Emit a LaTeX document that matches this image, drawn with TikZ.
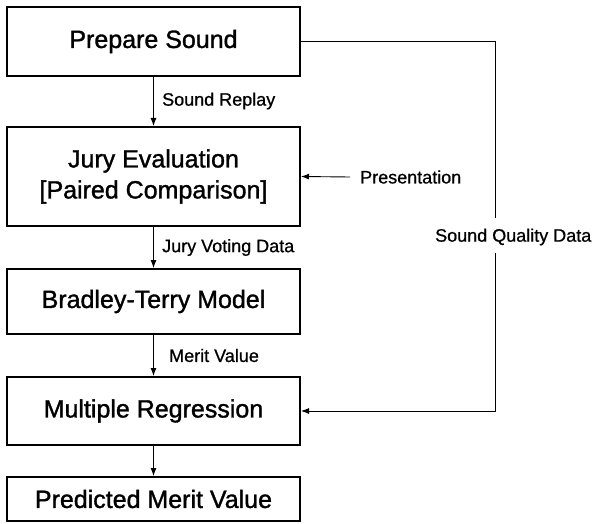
\documentclass[tikz,border=0pt]{standalone}
\usepackage{fontspec}
\setmainfont{Liberation Sans}
\newfontfamily\boxfont[FakeBold=1.3]{Liberation Sans}
\newfontfamily\lblfont[FakeBold=0.8]{Liberation Sans}
\usetikzlibrary{arrows.meta}
\begin{document}
\begin{tikzpicture}[x=1pt,y=-1pt,
  box/.style={draw, line width=2pt, minimum width=293pt, inner sep=0pt, align=center,
    font=\boxfont\fontsize{25}{31}\selectfont},
  lbl/.style={anchor=west, inner sep=0pt, font=\lblfont\fontsize{18}{20}\selectfont},
  conn/.style={line width=0.9pt},
  arr/.style={conn, -{Latex[length=8pt,width=6pt]}}]
\useasboundingbox (0,0) rectangle (592,524);
\node[box, minimum height=69pt] (b1) at (153.5,41.5) {Prepare Sound};
\node[box, minimum height=99pt] (b2) at (153.5,176.5) {Jury Evaluation\\{[}Paired Comparison{]}};
\node[box, minimum height=65pt] (b3) at (153.5,301.5) {Bradley-Terry Model};
\node[box, minimum height=68pt] (b4) at (153.5,411) {Multiple Regression};
\node[box, minimum height=44pt] (b5) at (153.5,499) {Predicted Merit Value};
\draw[arr] (b1) -- (b2);
\draw[arr] (b2) -- (b3);
\draw[arr] (b3) -- (b4);
\draw[arr] (b4) -- (b5);
\node[lbl] (l1) at (162,101) {Sound Replay};
\node[lbl] (l2) at (162,247.5) {Jury Voting Data};
\node[lbl] (l3) at (169,355.5) {Merit Value};
\node[lbl] (pres) at (360,177) {Presentation};
\coordinate (pa) at (350,177);
\draw[arr] (pa) -- (b2.east);
\node[lbl] (sq) at (435,237) {Sound Quality Data};
\coordinate (g1) at (495,218);
\coordinate (g2) at (495,253);
\draw[conn] (b1.east) -| (g1);
\draw[arr] (g2) |- (b4.east);
\end{tikzpicture}
\end{document}
